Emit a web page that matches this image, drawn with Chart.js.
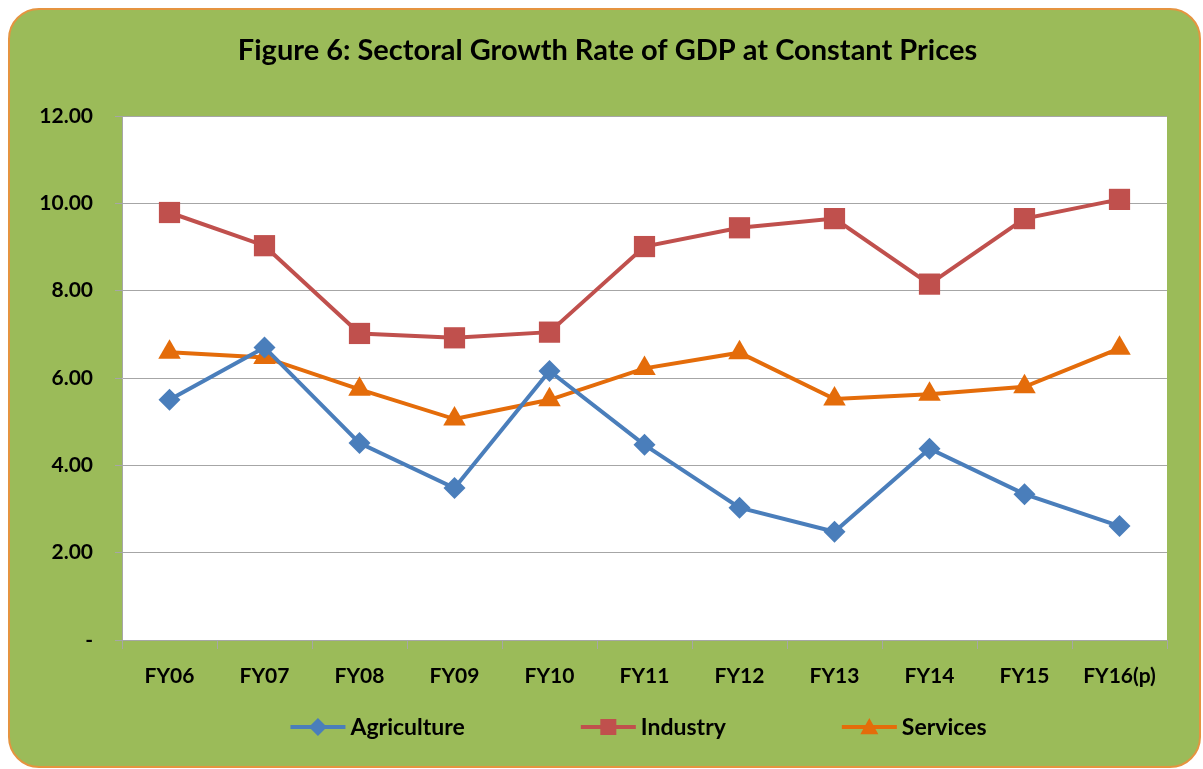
<!DOCTYPE html>
<html>
<head>
<meta charset="utf-8">
<script src="https://cdn.jsdelivr.net/npm/chart.js@4.4.1/dist/chart.umd.min.js"></script>
<style>
  html, body { margin: 0; padding: 0; background: #fff; }
</style>
</head>
<body>
<canvas id="gdp-chart" width="1203" height="769"></canvas>
<script>
'use strict';

// ── Data ────────────────────────────────────────────────────────────────
const chartTitle = 'Figure 6: Sectoral Growth Rate of GDP at Constant Prices';
const years = ['FY06', 'FY07', 'FY08', 'FY09', 'FY10', 'FY11', 'FY12', 'FY13', 'FY14', 'FY15', 'FY16(p)'];
const agriculture = [5.50, 6.70, 4.51, 3.48, 6.16, 4.47, 3.03, 2.48, 4.38, 3.34, 2.61];
const industry    = [9.79, 9.03, 7.02, 6.92, 7.05, 9.01, 9.44, 9.65, 8.15, 9.65, 10.09];
const services    = [6.59, 6.47, 5.74, 5.06, 5.50, 6.22, 6.58, 5.52, 5.63, 5.80, 6.68];
const seriesNames = ['Agriculture', 'Industry', 'Services'];

const FONT = 'Lato, "Open Sans", sans-serif';
const GRID = '#a6a6a6';

const seriesStyle = [
  { color: '#4a7ebb', pointStyle: 'rectRot', radius: 11 },
  { color: '#c0504d', pointStyle: 'rect', radius: 15 },
  { color: '#e46c0a', pointStyle: 'triangle', radius: 13 },
];

// ── Frame, title and legend (Excel look) ────────────────────────────────
function legendMarker(ctx, style, x, y, r) {
  ctx.beginPath();
  if (style === 'rectRot') {
    ctx.moveTo(x - r, y); ctx.lineTo(x, y - r); ctx.lineTo(x + r, y); ctx.lineTo(x, y + r);
  } else if (style === 'rect') {
    ctx.rect(x - r, y - r, 2 * r, 2 * r);
  } else {
    ctx.moveTo(x, y - r); ctx.lineTo(x + r, y + r * 0.8); ctx.lineTo(x - r, y + r * 0.8);
  }
  ctx.closePath();
  ctx.fill();
}

const framePlugin = {
  id: 'frame',
  beforeDraw(chart) {
    const { ctx, chartArea: a, width } = chart;
    ctx.save();
    ctx.fillStyle = '#fff';
    ctx.fillRect(0, 0, chart.width, chart.height);
    ctx.beginPath();
    ctx.roundRect(9, 9, 1191, 758, 30);
    ctx.fillStyle = '#9bbb59';
    ctx.fill();
    ctx.lineWidth = 2;
    ctx.strokeStyle = '#e59440';
    ctx.stroke();
    ctx.fillStyle = '#fff';
    ctx.fillRect(a.left, a.top, a.right - a.left, a.bottom - a.top);

    ctx.fillStyle = '#000';
    ctx.font = `bold 29px ${FONT}`;
    ctx.textAlign = 'center';
    ctx.textBaseline = 'middle';
    ctx.fillText(chartTitle, width / 2 + 6, 51);
    ctx.restore();
  },
  afterDraw(chart) {
    const { ctx, chartArea: a } = chart;
    ctx.save();
    ctx.font = `bold 23px ${FONT}`;
    ctx.textBaseline = 'middle';
    ctx.textAlign = 'left';
    const lineLen = 55, gapText = 5, gapItem = 116, y = 727;
    const widths = seriesNames.map(n => lineLen + gapText + ctx.measureText(n).width);
    const total = widths.reduce((s, w) => s + w, 0) + gapItem * (widths.length - 1);
    let x = (a.left + a.right) / 2 - 6 - total / 2;
    seriesNames.forEach((name, i) => {
      const st = seriesStyle[i];
      ctx.strokeStyle = st.color;
      ctx.fillStyle = st.color;
      ctx.lineWidth = 4;
      ctx.beginPath();
      ctx.moveTo(x, y); ctx.lineTo(x + lineLen, y);
      ctx.stroke();
      legendMarker(ctx, st.pointStyle, x + lineLen / 2, y, st.pointStyle === 'rect' ? 8 : 9);
      ctx.fillStyle = '#000';
      ctx.fillText(name, x + lineLen + gapText, y + 1);
      x += widths[i] + gapItem;
    });
    ctx.restore();
  }
};

// ── Chart ───────────────────────────────────────────────────────────────
const datasets = [agriculture, industry, services].map((data, i) => ({
  label: seriesNames[i],
  data,
  borderColor: seriesStyle[i].color,
  backgroundColor: seriesStyle[i].color,
  borderWidth: 4,
  pointStyle: seriesStyle[i].pointStyle,
  pointRadius: seriesStyle[i].radius,
  pointBorderWidth: 0,
  tension: 0,
}));

new Chart(document.getElementById('gdp-chart'), {
  type: 'line',
  data: { labels: years, datasets },
  options: {
    responsive: false,
    animation: false,
    devicePixelRatio: 1,
    layout: { padding: { top: 116, right: 36, left: 0, bottom: 0 } },
    plugins: {
      legend: { display: false },
      title: { display: false },
      tooltip: { enabled: false },
    },
    scales: {
      x: {
        offset: true,
        grid: { offset: true, drawOnChartArea: false, color: GRID, tickLength: 9 },
        border: { color: GRID },
        ticks: {
          color: '#000',
          font: { family: FONT, weight: 'bold', size: 21 },
          padding: 15,
          maxRotation: 0,
          autoSkip: false,
        },
        afterFit: s => { s.height = 129; },
      },
      y: {
        min: 0,
        max: 12,
        grid: { color: GRID, tickLength: 7 },
        border: { color: GRID },
        ticks: {
          stepSize: 2,
          color: '#000',
          font: { family: FONT, weight: 'bold', size: 21 },
          padding: 22,
          callback: v => (v === 0 ? '-' : v.toFixed(2)),
        },
        afterFit: s => { s.width = 122; },
      },
    },
  },
  plugins: [framePlugin],
});
</script>
</body>
</html>
